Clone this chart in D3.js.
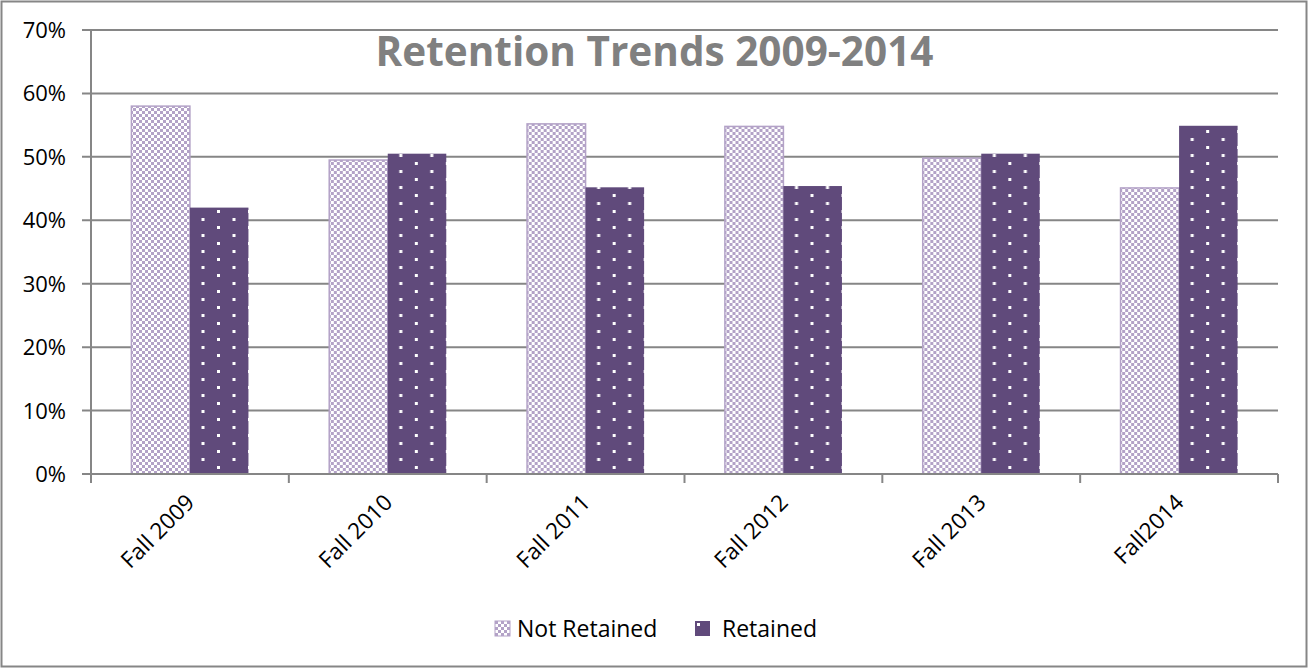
<!DOCTYPE html>
<html><head><meta charset="utf-8">
<script src="https://cdn.jsdelivr.net/npm/d3@7"></script>
<style>
html,body{margin:0;padding:0;background:#fff;}
svg{display:block;font-family:"Open Sans","Liberation Sans",sans-serif;}
</style></head>
<body><svg id="c" width="1308" height="668"></svg>
<script>
const categories = ["Fall 2009","Fall 2010","Fall 2011","Fall 2012","Fall 2013","Fall2014"];
const seriesNames = ["Not Retained","Retained"];
const notRetained = [0.58, 0.495, 0.552, 0.548, 0.498, 0.451];
const retained = [0.42, 0.505, 0.452, 0.454, 0.505, 0.549];
const yTicks = [0,0.1,0.2,0.3,0.4,0.5,0.6,0.7];
const title = "Retention Trends 2009-2014";

const svg = d3.select("#c");
const W = 1308, H = 668;
const m = {left:91, right:1278, top:30, bottom:474};
const gray = "#868686";
const light = "#b3a2c7", dark = "#604a7b";

const defs = svg.append("defs");
const pc = defs.append("pattern").attr("id","checker").attr("patternUnits","userSpaceOnUse")
  .attr("width",6).attr("height",6);
pc.append("rect").attr("width",6).attr("height",6).attr("fill","#fff");
pc.append("rect").attr("width",3).attr("height",3).attr("fill",light);
pc.append("rect").attr("x",3).attr("y",3).attr("width",3).attr("height",3).attr("fill",light);
const pd = defs.append("pattern").attr("id","dots").attr("patternUnits","userSpaceOnUse")
  .attr("width",31).attr("height",16);
pd.append("rect").attr("width",31).attr("height",16).attr("fill",dark);
pd.append("rect").attr("x",2).attr("y",2).attr("width",3).attr("height",3).attr("fill","#fff");
pd.append("rect").attr("x",17.5).attr("y",10).attr("width",3).attr("height",3).attr("fill","#fff");

svg.append("rect").attr("x",1.5).attr("y",1.5).attr("width",W-3).attr("height",H-3)
  .attr("fill","#fff").attr("stroke",gray).attr("stroke-width",2);

const x0 = d3.scaleBand().domain(categories).range([m.left,m.right]).paddingInner(0).paddingOuter(0);
const x1 = d3.scaleBand().domain(seriesNames).range([0,x0.bandwidth()]).paddingOuter(0.69).paddingInner(0);
const y = d3.scaleLinear().domain([0,0.7]).range([m.bottom,m.top]);

svg.append("g").selectAll("line").data(yTicks).join("line")
  .attr("x1",m.left-9).attr("x2",m.right).attr("y1",d=>y(d)).attr("y2",d=>y(d))
  .attr("stroke",gray).attr("stroke-width",2);

svg.append("g").selectAll("text").data(yTicks).join("text")
  .attr("x",66).attr("y",d=>y(d)+8).attr("text-anchor","end")
  .attr("font-size",22).attr("fill","#000").text(d=>d3.format(".0%")(d));

const data = categories.map((c,i)=>({c, vals:[{k:"Not Retained",v:notRetained[i]},{k:"Retained",v:retained[i]}]}));
const g = svg.append("g").selectAll("g").data(data).join("g").attr("transform",d=>`translate(${x0(d.c)},0)`);
g.selectAll("rect").data(d=>d.vals).join("rect")
  .attr("x",d=>x1(d.k)).attr("width",x1.bandwidth())
  .attr("y",d=>y(d.v)).attr("height",d=>y(0)-y(d.v))
  .attr("fill",d=>d.k==="Not Retained"?"url(#checker)":"url(#dots)")
  .attr("stroke",d=>d.k==="Not Retained"?light:"none").attr("stroke-width",1.5);

svg.append("line").attr("x1",m.left).attr("x2",m.left).attr("y1",m.top).attr("y2",m.bottom+8)
  .attr("stroke",gray).attr("stroke-width",2);
svg.append("line").attr("x1",m.left).attr("x2",m.right).attr("y1",m.bottom).attr("y2",m.bottom)
  .attr("stroke",gray).attr("stroke-width",2);
const bounds = categories.map(c=>x0(c)).concat([m.right]);
svg.append("g").selectAll("line").data(bounds).join("line")
  .attr("x1",d=>d).attr("x2",d=>d).attr("y1",m.bottom).attr("y2",m.bottom+9)
  .attr("stroke",gray).attr("stroke-width",2);

svg.append("g").selectAll("text").data(categories).join("text")
  .attr("transform",c=>`translate(${x0(c)+x0.bandwidth()/2+6},${m.bottom+30}) rotate(-45)`)
  .attr("text-anchor","end").attr("font-size",22.5).attr("fill","#000").text(c=>c);

svg.append("text").attr("x",(m.left+m.right)/2-30).attr("y",66).attr("text-anchor","middle")
  .attr("font-size",40.5).attr("font-weight","bold").attr("fill","#808080").text(title);

const leg = [{k:"Not Retained",x:495,tx:517,fill:"url(#checker)"},{k:"Retained",x:695,tx:722,fill:dark}];
const lg = svg.append("g").selectAll("g").data(leg).join("g");
lg.append("rect").attr("x",d=>d.x).attr("y",621).attr("width",15).attr("height",15)
  .attr("fill",d=>d.fill).attr("stroke",d=>d.k==="Not Retained"?light:"none");
lg.filter(d=>d.k==="Retained").append("rect").attr("x",d=>d.x+2).attr("y",623).attr("width",3).attr("height",3).attr("fill","#fff");
lg.append("text").attr("x",d=>d.tx).attr("y",637).attr("font-size",23).attr("fill","#000").text(d=>d.k);
</script></body></html>
